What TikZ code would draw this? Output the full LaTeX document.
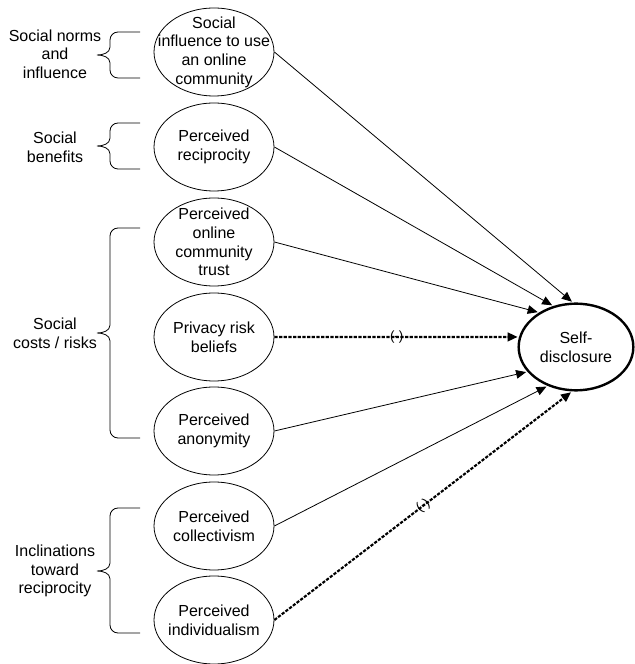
\documentclass[tikz,border=0pt]{standalone}
\usepackage{fontspec}
\setmainfont{Liberation Sans}
\usetikzlibrary{shapes, arrows, calc, positioning}
\usetikzlibrary{arrows.meta}

\begin{document}
\begin{tikzpicture}[
  x=0.75pt, y=0.75pt,
  every node/.style={font=\fontsize{12}{14}\selectfont, align=center},
  factor/.style={ellipse, draw, line width=0.6pt, minimum width=90pt, minimum height=66pt, inner sep=0pt},
  outcome/.style={ellipse, draw, line width=1.8pt, minimum width=86pt, minimum height=65pt, inner sep=0pt},
  link/.style={draw, -{Triangle[length=7.5pt, width=6.5pt]}, line width=0.6pt, shorten >=1pt},
  neglink/.style={link, line width=1.6pt, dash pattern=on 2.4pt off 1.1pt},
  sign/.style={midway, sloped, inner sep=0pt, font=\fontsize{10}{12}\selectfont},
  brace/.style={draw, line width=0.6pt}
]
\useasboundingbox (0,0) rectangle (635,664);

% antecedents
\node[factor, label=center:{Social\\influence to use\\an online\\community}] (influence) at (214,612) {};
\node[factor, label=center:{Perceived\\reciprocity}] (reciprocity) at (214,517) {};
\node[factor, label=center:{Perceived\\online\\community\\trust}] (trust) at (214,422) {};
\node[factor, label=center:{Privacy risk\\beliefs}] (privacy) at (214,327) {};
\node[factor, label=center:{Perceived\\anonymity}] (anonymity) at (214,233) {};
\node[factor, label=center:{Perceived\\collectivism}] (collectivism) at (214,138) {};
\node[factor, label=center:{Perceived\\individualism}] (individualism) at (214,44) {};

% outcome
\node[outcome] (disclosure) at (576,317) {Self-\\disclosure};

% groups
\node (normslbl) at (55,610) {Social norms\\and\\influence};
\node (benefitslbl) at (55,517) {Social\\benefits};
\node (costslbl) at (55,331) {Social\\costs / risks};
\node (inclinlbl) at (55,93) {Inclinations\\toward\\reciprocity};

\foreach \ya/\yb/\yc in {632/609/586, 541/518/495, 436/331/226, 156/93/31}
  \draw[brace] (140,\ya) -- (118,\ya) to[out=180,in=90] (110,\ya-8) -- (110,\yb+8)
    to[out=270,in=0] (97,\yb) to[out=0,in=90] (110,\yb-8) -- (110,\yc+8)
    to[out=270,in=180] (118,\yc) -- (140,\yc);

% paths
\draw[link] (influence.east) -- (disclosure.94);
\draw[link] (reciprocity.east) -- (disclosure.119);
\draw[link] (trust.east) -- (disclosure.137);
\draw[neglink] (privacy.east) -- node[sign] {(-)} (disclosure.170);
\draw[link] (anonymity.east) -- (disclosure.207);
\draw[link] (collectivism.east) -- (disclosure.234);
\draw[neglink] (individualism.east) -- node[sign] {(-)} (disclosure.265);

\end{tikzpicture}
\end{document}
